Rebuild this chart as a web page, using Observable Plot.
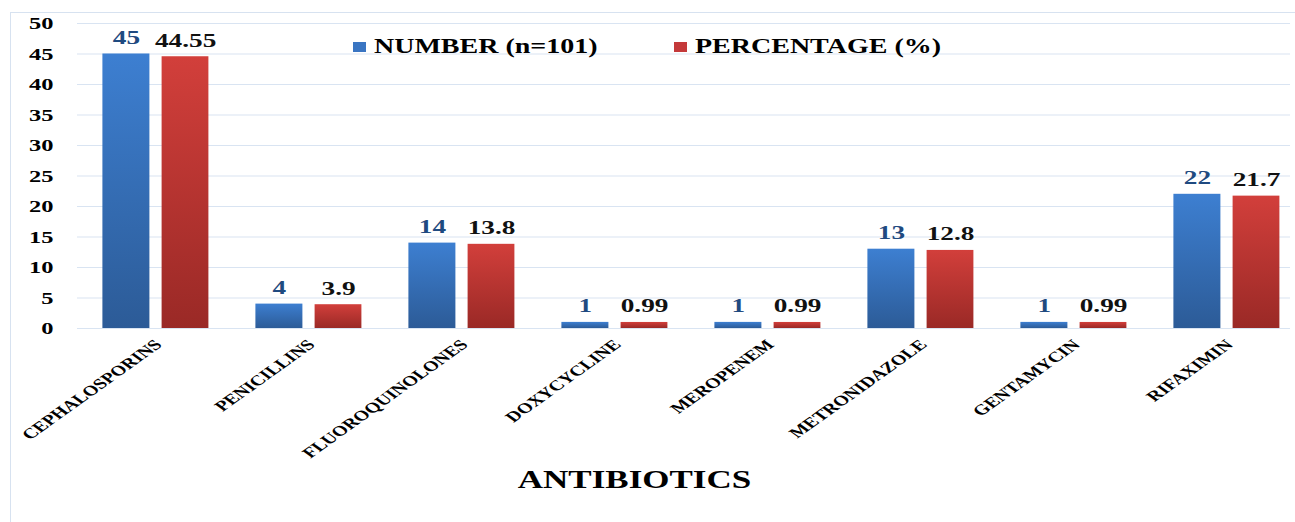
<!DOCTYPE html>
<html>
<head>
<meta charset="utf-8">
<script src="https://cdn.jsdelivr.net/npm/d3@7"></script>
<script src="https://cdn.jsdelivr.net/npm/@observablehq/plot@0.6"></script>
<style>
  html, body { margin: 0; padding: 0; background: #ffffff; }
  #wrap { position: relative; width: 1295px; height: 522px; overflow: hidden; background: #fff; }
  #frame { position: absolute; left: 10px; top: 12px; width: 1300px; height: 520px;
           border-left: 1.5px solid #d7e2f0; border-top: 1.5px solid #d7e2f0; }
  #chart { position: absolute; left: 0; top: 0; }
  .leg { position: absolute; font-family: "Liberation Serif", "Times New Roman", serif; font-weight: bold;
         font-size: 20px; line-height: 20px; color: #000; white-space: nowrap; }
  .leg span.t { display: inline-block; transform: scaleX(1.4); transform-origin: 0 50%; }
  .sw { position: absolute; width: 13px; height: 10px; }
</style>
</head>
<body>
<div id="wrap">
  <div id="frame"></div>
  <div id="chart"></div>
  <div id="legend"></div>
</div>
<script>
// ---- data ----
const categories = ["CEPHALOSPORINS", "PENICILLINS", "FLUOROQUINOLONES", "DOXYCYCLINE",
                    "MEROPENEM", "METRONIDAZOLE", "GENTAMYCIN", "RIFAXIMIN"];
const numbers = [45, 4, 14, 1, 1, 13, 1, 22];
const percentages = [44.55, 3.9, 13.8, 0.99, 0.99, 12.8, 0.99, 21.7];
const yTicks = [0, 5, 10, 15, 20, 25, 30, 35, 40, 45, 50];
const seriesNames = ["NUMBER (n=101)", "PERCENTAGE (%)"];
const seriesColors = ["#3a75c2", "#c4393a"];
const xTitle = "ANTIBIOTICS";

const rows = categories.map((c, i) => ({category: c, number: numbers[i], percentage: percentages[i]}));

const NS = "http://www.w3.org/2000/svg";
function gradientDefs() {
  const defs = document.createElementNS(NS, "defs");
  const mk = (id, top, bottom) => {
    const g = document.createElementNS(NS, "linearGradient");
    g.setAttribute("id", id);
    g.setAttribute("x1", "0"); g.setAttribute("y1", "0");
    g.setAttribute("x2", "0"); g.setAttribute("y2", "1");
    const s1 = document.createElementNS(NS, "stop");
    s1.setAttribute("offset", "0"); s1.setAttribute("stop-color", top);
    const s2 = document.createElementNS(NS, "stop");
    s2.setAttribute("offset", "1"); s2.setAttribute("stop-color", bottom);
    g.appendChild(s1); g.appendChild(s2);
    defs.appendChild(g);
  };
  mk("gBlue", "#3d7fd1", "#2c5b97");
  mk("gRed", "#d23f3b", "#9a2926");
  return defs;
}

const serif = "'Liberation Serif', 'Times New Roman', serif";

const chart = Plot.plot({
  width: 1295,
  height: 522,
  marginLeft: 77,
  marginRight: 5,
  marginTop: 23,
  marginBottom: 194,
  x: {domain: categories, range: [76.65, 1306.35], padding: 0, axis: null},
  y: {domain: [0, 50], axis: null},
  style: {background: "transparent", color: "#000"},
  marks: [
    () => gradientDefs(),
    Plot.ruleY(yTicks, {stroke: "#d9e4f2", strokeWidth: 1.2}),
    Plot.axisY(yTicks, {tickSize: 0, tickPadding: 24, fontSize: 17.5, fontFamily: serif, fontWeight: "bold", label: null}),
    Plot.barY(rows, {x: "category", y: "number", fill: "url(#gBlue)", insetLeft: 23.4, insetRight: 82.6}),
    Plot.barY(rows, {x: "category", y: "percentage", fill: "url(#gRed)", insetLeft: 82.6, insetRight: 23.6}),
    Plot.text(rows, {x: "category", y: "number", text: d => String(d.number), dx: -29.6, dy: -10,
                     lineAnchor: "bottom", fill: "#1f4a80", fontSize: 19.5, fontFamily: serif, fontWeight: "bold"}),
    Plot.text(rows, {x: "category", y: "percentage", text: d => String(d.percentage), dx: 29.6, dy: -10,
                     lineAnchor: "bottom", fill: "#111", fontSize: 19.5, fontFamily: serif, fontWeight: "bold"}),
    Plot.text(categories, {x: d => d, frameAnchor: "bottom", rotate: -45, textAnchor: "end",
                           lineAnchor: "bottom", dx: 7, dy: 17, fontSize: 14.5, fontFamily: serif,
                           fontWeight: "bold", fill: "#000"}),
    Plot.text([xTitle], {frameAnchor: "bottom", dx: -49.5, dy: 159, lineAnchor: "bottom",
                         fontSize: 25, fontFamily: serif, fontWeight: "bold", fill: "#000"})
  ]
});
document.getElementById("chart").appendChild(chart);

// The original lettering is horizontally stretched (~1.4x); insert a screen-aligned
// scale right after each text's own translate so anchors stay where the scales put them.
function stretch(g, f) {
  if (!g) return;
  g.querySelectorAll("text").forEach(t => {
    const tr = t.getAttribute("transform") || "";
    const m = tr.match(/^\s*translate\([^)]*\)/);
    if (m) t.setAttribute("transform", m[0] + ` scale(${f},1)` + tr.slice(m[0].length));
  });
}
stretch(chart.querySelector('g[aria-label$="tick label"]'), 1.4);
chart.querySelectorAll('g[aria-label="text"]').forEach(g => stretch(g, 1.4));

// legend (HTML)
const legend = document.getElementById("legend");
const legPos = [{sq: 353, tx: 374}, {sq: 674, tx: 695}];
seriesNames.forEach((name, i) => {
  const sw = document.createElement("div");
  sw.className = "sw";
  sw.style.left = legPos[i].sq + "px";
  sw.style.top = "42px";
  sw.style.background = seriesColors[i];
  legend.appendChild(sw);
  const lab = document.createElement("div");
  lab.className = "leg";
  lab.style.left = legPos[i].tx + "px";
  lab.style.top = "36px";
  lab.innerHTML = `<span class="t"></span>`;
  lab.querySelector(".t").textContent = name;
  legend.appendChild(lab);
});
</script>
</body>
</html>
